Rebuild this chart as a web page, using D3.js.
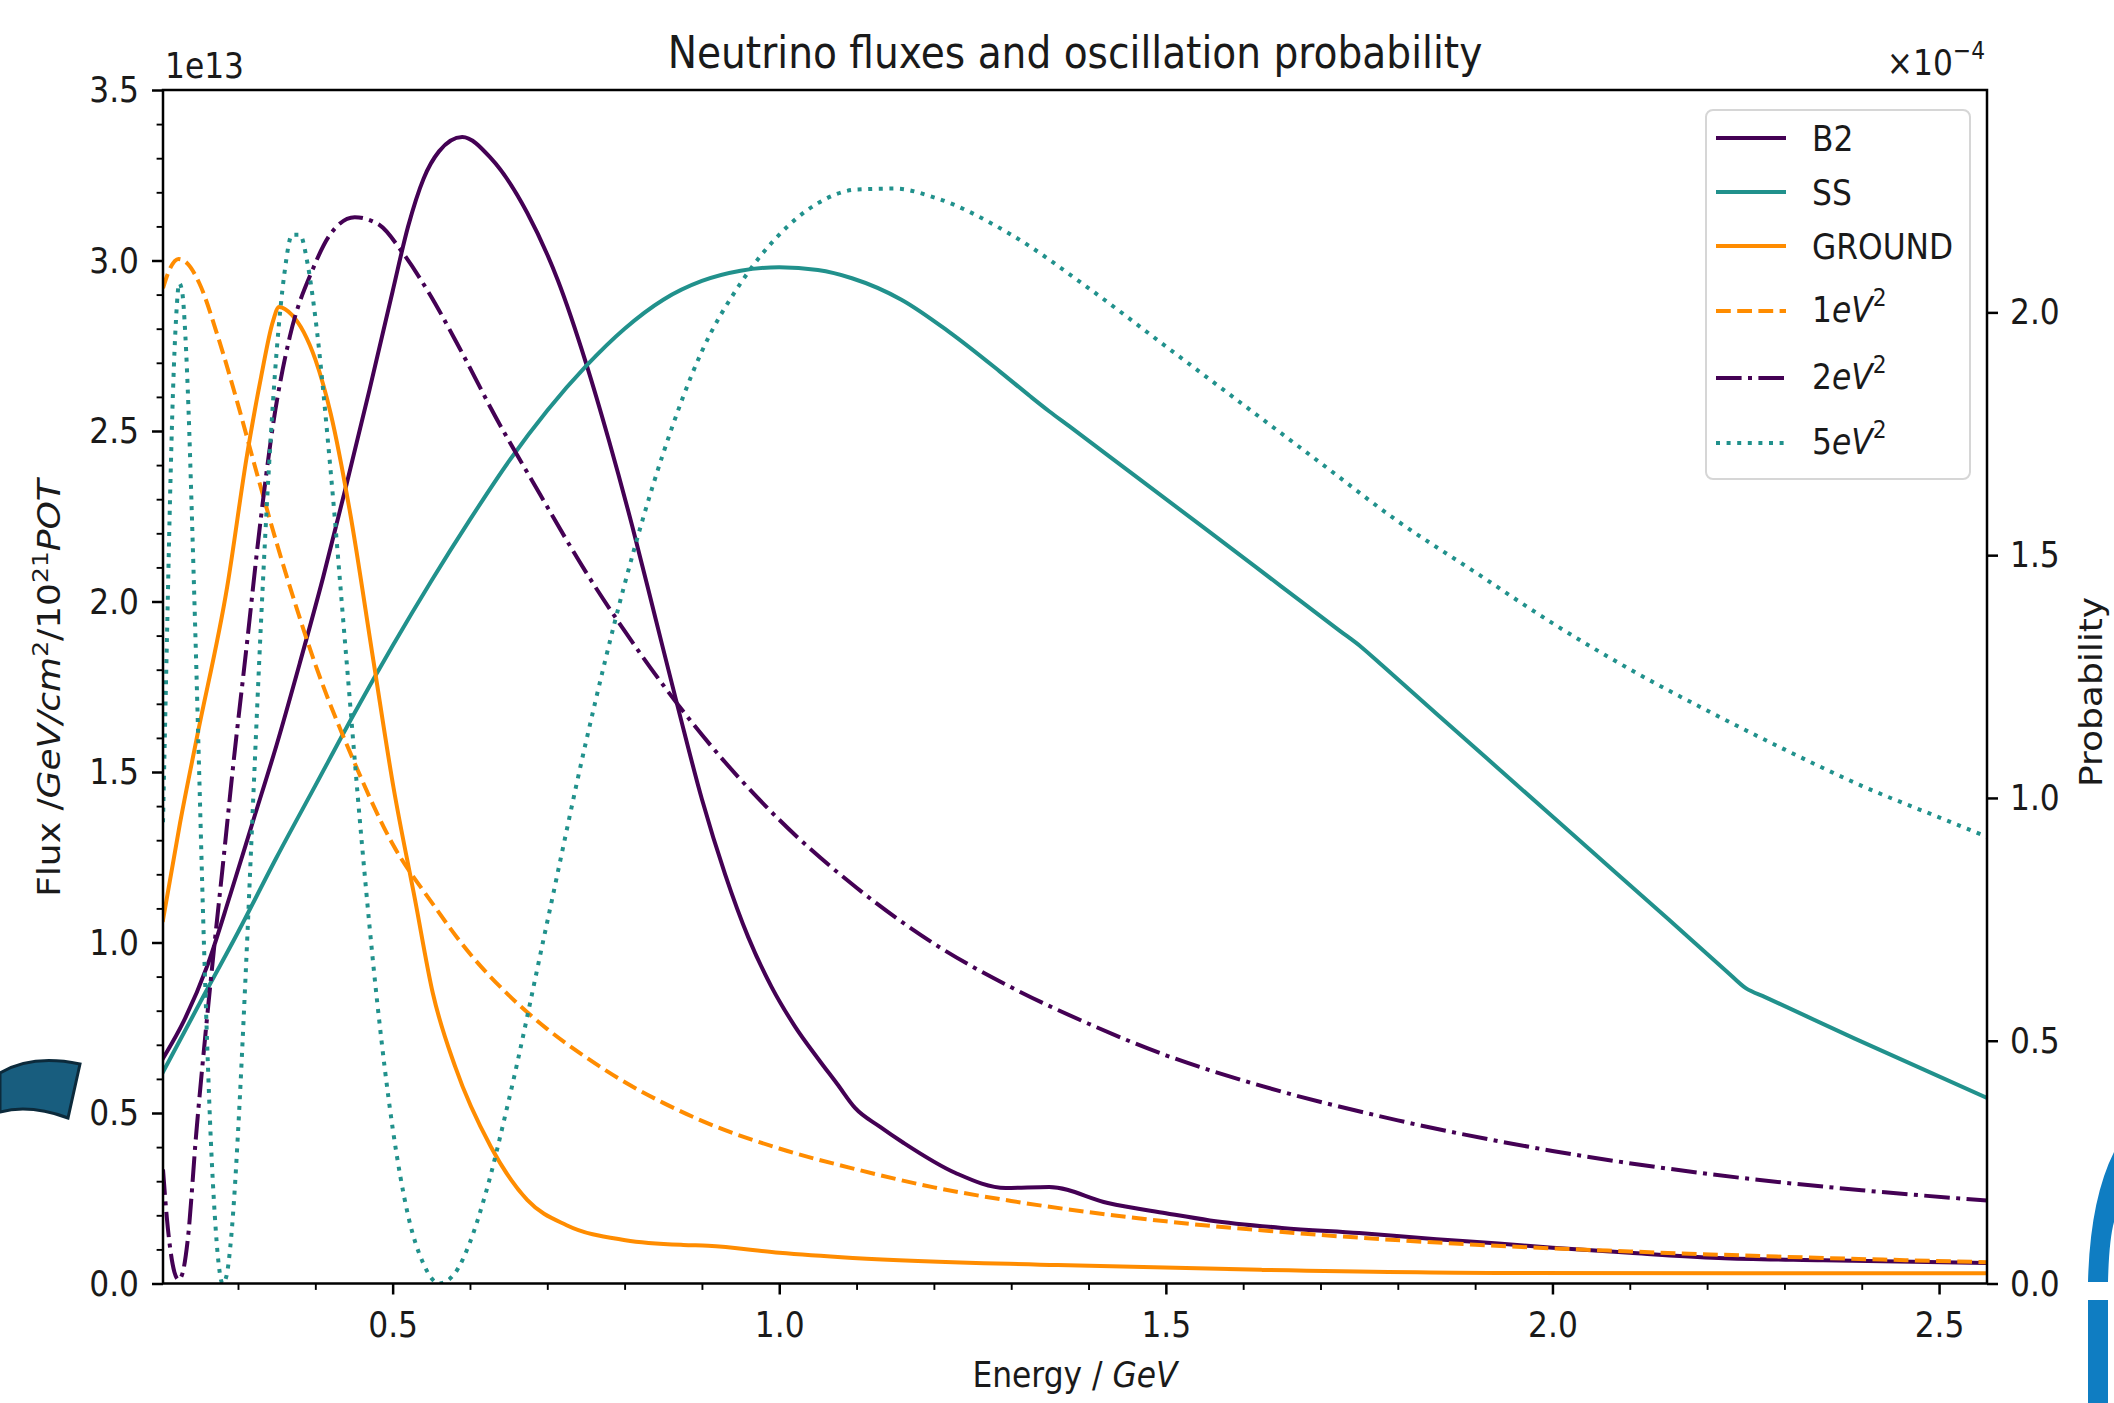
<!DOCTYPE html>
<html>
<head>
<meta charset="utf-8">
<script src="https://cdn.jsdelivr.net/npm/d3@7"></script>
<style>
  html, body { margin: 0; padding: 0; background: #fff; }
  svg { display: block; }
  text { font-family: "DejaVu Sans", sans-serif; fill: #1a1a1a; }
</style>
</head>
<body>
<svg id="chart" width="2114" height="1403"></svg>
<script>
// ---------------- DATA ----------------
// Fluxes (units of 1e13 /GeV/cm^2/1e21 POT), left axis
const b2Energy = [0.203,0.23,0.26,0.29,0.32,0.35,0.38,0.41,0.44,0.47,0.50,0.52,0.54,0.56,0.59,0.627,0.674,0.714,0.75,0.78,0.81,0.84,0.87,0.90,0.93,0.96,0.99,1.02,1.05,1.075,1.098,1.13,1.161,1.228,1.293,1.349,1.425,1.50,1.557,1.65,1.75,1.85,1.93,2.0,2.1,2.215,2.35,2.562];
const b2Flux   = [0.66,0.77,0.93,1.14,1.36,1.58,1.82,2.07,2.34,2.62,2.91,3.10,3.24,3.32,3.362,3.30,3.14,2.94,2.70,2.47,2.22,1.95,1.68,1.42,1.20,1.015,0.87,0.755,0.66,0.585,0.515,0.46,0.412,0.324,0.280,0.283,0.236,0.206,0.185,0.163,0.148,0.130,0.117,0.105,0.090,0.075,0.068,0.060];

const ssEnergy = [0.203,0.25,0.30,0.35,0.40,0.45,0.50,0.55,0.60,0.65,0.70,0.75,0.80,0.85,0.90,0.95,1.00,1.05,1.094,1.158,1.22,1.285,1.325,1.349,1.375,1.45,1.55,1.65,1.725,1.753,1.78,1.85,1.95,2.05,2.15,2.225,2.25,2.275,2.391,2.562];
const ssFlux   = [0.62,0.82,1.03,1.25,1.46,1.67,1.87,2.06,2.24,2.41,2.56,2.69,2.80,2.885,2.94,2.97,2.98,2.972,2.948,2.885,2.79,2.675,2.601,2.558,2.514,2.386,2.215,2.043,1.914,1.866,1.812,1.671,1.470,1.269,1.068,0.916,0.866,0.840,0.718,0.544];

const groundEnergy = [0.203,0.225,0.247,0.286,0.312,0.330,0.345,0.353,0.370,0.385,0.400,0.420,0.445,0.475,0.501,0.529,0.552,0.581,0.627,0.674,0.725,0.801,0.876,0.908,1.000,1.095,1.360,1.623,1.930,2.562];
const groundFlux   = [1.066,1.350,1.603,2.043,2.434,2.660,2.820,2.864,2.840,2.790,2.710,2.550,2.260,1.828,1.456,1.125,0.851,0.635,0.401,0.245,0.171,0.127,0.113,0.111,0.090,0.075,0.054,0.040,0.031,0.030];

// Oscillation probabilities (units of 1e-4), right axis
const p1Energy = [0.203,0.212,0.223,0.235,0.25,0.275,0.30,0.325,0.35,0.375,0.40,0.45,0.50,0.55,0.60,0.65,0.70,0.75,0.80,0.85,0.90,1.0,1.1,1.2,1.3,1.5,1.7,1.9,2.1,2.3,2.562];
const p1Prob   = [2.05,2.09,2.11,2.10,2.06,1.945,1.81,1.665,1.525,1.395,1.275,1.075,0.905,0.786,0.679,0.594,0.524,0.466,0.415,0.372,0.335,0.278,0.235,0.198,0.170,0.128,0.100,0.080,0.066,0.055,0.044];

const p2Energy = [0.203,0.208,0.213,0.218,0.223,0.228,0.235,0.246,0.258,0.269,0.280,0.294,0.311,0.328,0.345,0.367,0.397,0.419,0.451,0.483,0.512,0.547,0.587,0.633,0.69,0.75,0.80,0.90,1.0,1.1,1.2,1.3,1.4,1.5,1.6,1.8,2.0,2.2,2.4,2.562];
const p2Prob   = [0.235,0.135,0.064,0.022,0.008,0.020,0.090,0.309,0.515,0.690,0.855,1.070,1.310,1.555,1.765,1.950,2.090,2.160,2.196,2.180,2.125,2.040,1.925,1.785,1.627,1.465,1.344,1.130,0.955,0.815,0.700,0.610,0.535,0.470,0.418,0.336,0.273,0.226,0.192,0.171];

const p5Energy = [0.203,0.208,0.212,0.216,0.220,0.224,0.228,0.232,0.236,0.240,0.245,0.250,0.255,0.260,0.265,0.270,0.275,0.280,0.285,0.290,0.295,0.300,0.310,0.320,0.330,0.340,0.350,0.360,0.370,0.380,0.390,0.400,0.420,0.440,0.460,0.480,0.500,0.520,0.540,0.560,0.580,0.600,0.620,0.650,0.700,0.750,0.800,0.850,0.900,0.950,1.000,1.050,1.100,1.150,1.200,1.300,1.400,1.500,1.600,1.700,1.800,1.900,2.000,2.100,2.200,2.300,2.400,2.500,2.562];
const p5Prob   = [0.950,1.320,1.610,1.840,1.990,2.060,2.040,1.950,1.800,1.600,1.330,1.040,0.750,0.500,0.290,0.140,0.040,0.000,0.015,0.075,0.175,0.310,0.640,1.010,1.370,1.680,1.920,2.080,2.160,2.160,2.100,1.990,1.670,1.290,0.910,0.580,0.320,0.140,0.040,0.000,0.020,0.085,0.184,0.376,0.745,1.115,1.440,1.710,1.920,2.060,2.160,2.225,2.253,2.255,2.237,2.160,2.050,1.930,1.810,1.690,1.570,1.465,1.360,1.265,1.180,1.100,1.025,0.960,0.920];

// Axis ticks and labels
const xTicks = [0.5, 1.0, 1.5, 2.0, 2.5];
const xMinorTicks = [0.3,0.4,0.6,0.7,0.8,0.9,1.1,1.2,1.3,1.4,1.6,1.7,1.8,1.9,2.1,2.2,2.3,2.4];
const leftTicks = [0.0, 0.5, 1.0, 1.5, 2.0, 2.5, 3.0, 3.5];
const leftMinorTicks = [0.1,0.2,0.3,0.4,0.6,0.7,0.8,0.9,1.1,1.2,1.3,1.4,1.6,1.7,1.8,1.9,2.1,2.2,2.3,2.4,2.6,2.7,2.8,2.9,3.1,3.2,3.3,3.4];
const rightTicks = [0.0, 0.5, 1.0, 1.5, 2.0];

const seriesNames = ["B2", "SS", "GROUND", "1eV2", "2eV2", "5eV2"];

// ---------------- LAYOUT ----------------
const W = 2114, H = 1403;
const L = 163, R = 1987, T = 90, B = 1283.5;
const SX = 0.87;          // horizontal squeeze of the reference picture
const FS = 36;            // base font size
const SUP = 25;           // superscript size
const PURPLE = "#440154", TEAL = "#21918c", ORANGE = "#ff8c00";
const LW = 4;

const svg = d3.select("#chart");
svg.append("rect").attr("width", W).attr("height", H).attr("fill", "#fff");

const x = d3.scaleLinear().domain([0.203, 2.562]).range([L, R]);
const yL = d3.scaleLinear().domain([0, 3.5]).range([B, T]);
const yR = d3.scaleLinear().domain([0, 2.458]).range([B, T]);

svg.append("clipPath").attr("id", "plotclip")
  .append("rect").attr("x", L).attr("y", T).attr("width", R - L).attr("height", B - T);

const series = [
  { name: seriesNames[0], E: b2Energy, V: b2Flux, y: yL, color: PURPLE, dash: null },
  { name: seriesNames[1], E: ssEnergy, V: ssFlux, y: yL, color: TEAL, dash: null },
  { name: seriesNames[2], E: groundEnergy, V: groundFlux, y: yL, color: ORANGE, dash: null },
  { name: seriesNames[3], E: p1Energy, V: p1Prob, y: yR, color: ORANGE, dash: [3.7*LW, 1.6*LW] },
  { name: seriesNames[4], E: p2Energy, V: p2Prob, y: yR, color: PURPLE, dash: [6.4*LW, 1.6*LW, 1*LW, 1.6*LW] },
  { name: seriesNames[5], E: p5Energy, V: p5Prob, y: yR, color: TEAL, dash: [1*LW, 1.65*LW] }
];

const gLines = svg.append("g").attr("clip-path", "url(#plotclip)");
series.forEach(s => {
  const pts = s.E.map((e, i) => [e, s.V[i]]);
  const line = d3.line().x(d => x(d[0])).y(d => s.y(d[1])).curve(d3.curveMonotoneX);
  gLines.append("path")
    .attr("d", line(pts))
    .attr("fill", "none")
    .attr("stroke", s.color)
    .attr("stroke-width", LW)
    .attr("stroke-linejoin", "round")
    .attr("stroke-linecap", s.dash ? "butt" : "square")
    .attr("stroke-dasharray", s.dash ? s.dash.join(",") : null);
});

// ---------------- AXES ----------------
const fmt = d3.format(".1f");
function styleAxis(g) {
  g.select(".domain").remove();
  g.selectAll(".tick line").attr("stroke", "#000").attr("stroke-width", 2.5);
  g.selectAll(".tick text")
    .attr("font-size", FS)
    .attr("fill", "#1a1a1a")
    .attr("font-family", "DejaVu Sans, sans-serif")
    .each(function() {
      const t = d3.select(this);
      const xv = +t.attr("x") || 0;
      t.attr("x", xv / SX).attr("transform", `scale(${SX},1)`);
    });
}
function styleMinor(g) {
  g.select(".domain").remove();
  g.selectAll(".tick line").attr("stroke", "#000").attr("stroke-width", 1.9);
  g.selectAll(".tick text").remove();
}

const gxMinor = svg.append("g").attr("transform", `translate(0,${B})`)
  .call(d3.axisBottom(x).tickValues(xMinorTicks).tickSize(6.4).tickFormat(""));
styleMinor(gxMinor);
const gx = svg.append("g").attr("transform", `translate(0,${B})`)
  .call(d3.axisBottom(x).tickValues(xTicks).tickSize(11).tickPadding(17).tickFormat(fmt));
styleAxis(gx);

const gyMinor = svg.append("g").attr("transform", `translate(${L},0)`)
  .call(d3.axisLeft(yL).tickValues(leftMinorTicks).tickSize(6.4).tickFormat(""));
styleMinor(gyMinor);
const gy = svg.append("g").attr("transform", `translate(${L},0)`)
  .call(d3.axisLeft(yL).tickValues(leftTicks).tickSize(11).tickPadding(13).tickFormat(fmt));
styleAxis(gy);

const gyR = svg.append("g").attr("transform", `translate(${R},0)`)
  .call(d3.axisRight(yR).tickValues(rightTicks).tickSize(11).tickPadding(12).tickFormat(fmt));
styleAxis(gyR);

svg.append("rect").attr("x", L).attr("y", T).attr("width", R - L).attr("height", B - T)
  .attr("fill", "none").attr("stroke", "#000").attr("stroke-width", 2.5);

// ---------------- TEXT ----------------
function sText(xp, yp, rot, anchor, size) {
  const tf = rot
    ? `translate(${xp},${yp}) rotate(${rot}) scale(1,${SX})`
    : `translate(${xp},${yp}) scale(${SX},1)`;
  return svg.append("text").attr("transform", tf)
    .attr("text-anchor", anchor).attr("font-size", size);
}

sText(1075, 68, 0, "middle", 45).text("Neutrino fluxes and oscillation probability");

sText(L + 2, 78, 0, "start", FS).text("1e13");
const off = sText(1985, 75, 0, "end", FS);
off.append("tspan").text("\u00d710");
off.append("tspan").attr("dy", -16).attr("font-size", SUP).text("\u22124");

const xl = sText(1075, 1387, 0, "middle", FS);
xl.append("tspan").text("Energy / ");
xl.append("tspan").attr("font-style", "italic").text("GeV");

const yl = sText(60, 688, -90, "middle", FS);
yl.append("tspan").text("Flux /");
yl.append("tspan").attr("font-style", "italic").text("GeV/cm");
yl.append("tspan").attr("dy", -14).attr("font-size", SUP).text("2");
yl.append("tspan").attr("dy", 14).text("/10");
yl.append("tspan").attr("dy", -14).attr("font-size", SUP).text("21");
yl.append("tspan").attr("dy", 14).attr("font-style", "italic").text("POT");

sText(2102, 692, -90, "middle", FS).text("Probability");

// ---------------- LEGEND ----------------
const lg = svg.append("g");
lg.append("rect").attr("x", 1706).attr("y", 110).attr("width", 264).attr("height", 369)
  .attr("rx", 7).attr("fill", "#fff").attr("fill-opacity", 0.8)
  .attr("stroke", "#d6d6d6").attr("stroke-width", 2);
const rowY = [138, 192, 246, 311, 378, 443];
series.forEach((s, i) => {
  lg.append("line").attr("x1", 1716).attr("x2", 1786).attr("y1", rowY[i]).attr("y2", rowY[i])
    .attr("stroke", s.color).attr("stroke-width", LW)
    .attr("stroke-dasharray", s.dash ? s.dash.join(",") : null);
  const t = svg.append("text")
    .attr("transform", `translate(1812,${rowY[i] + (s.dash ? 11 : 13)}) scale(${SX},1)`)
    .attr("font-size", FS);
  if (s.dash) {
    t.append("tspan").text(s.name.charAt(0));
    t.append("tspan").attr("font-style", "italic").text("eV");
    t.append("tspan").attr("dy", -16).attr("font-size", SUP).text("2");
  } else {
    t.text(s.name);
  }
});

// ---------------- DECORATIVE OVERLAYS (present in the reference screenshot) ----------------
svg.append("path")
  .attr("d", "M0,1073 Q32,1054 80,1064 L68,1118 Q30,1104 0,1112 Z")
  .attr("fill", "#185d7e").attr("stroke", "#0c2a3b").attr("stroke-width", 3);
svg.append("path")
  .attr("d", "M2114,1152 Q2090,1200 2088,1282 L2108,1282 Q2109,1240 2114,1222 Z")
  .attr("fill", "#0f7dc2");
svg.append("rect").attr("x", 2088).attr("y", 1300).attr("width", 20).attr("height", 103)
  .attr("fill", "#0f7dc2");
</script>
</body>
</html>
